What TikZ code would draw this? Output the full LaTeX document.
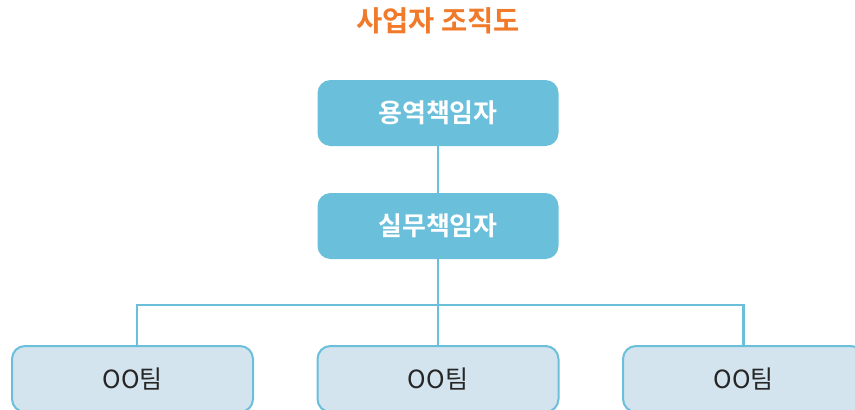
\documentclass[tikz,border=0pt]{standalone}
\usepackage{fontspec}
\setmainfont{Noto Sans CJK KR}[BoldFont={Noto Sans CJK KR Bold}]
\usepackage{xcolor}
\definecolor{headblue}{HTML}{6ABFDA}
\definecolor{teamfill}{HTML}{D4E4EE}
\definecolor{titleorange}{HTML}{F07A2A}
\tikzset{
  headbox/.style={draw=none,fill=headblue,rounded corners=13pt,minimum width=241pt,
    minimum height=66pt,text=white,font=\fontsize{26}{30}\selectfont\bfseries},
  teambox/.style={draw=headblue,line width=2pt,fill=teamfill,rounded corners=13pt,
    minimum width=241pt,minimum height=66pt,text=black!85,font=\fontsize{25}{30}\selectfont},
  link/.style={draw=headblue,line width=2.8pt}
}

\begin{document}
\begin{tikzpicture}[x=1pt,y=-1pt]
  \useasboundingbox (0,0) rectangle (855,410);
  \node[text=titleorange,font=\fontsize{28.5}{32}\selectfont\bfseries] (title) at (438,21) {사업자 조직도};
  \node[headbox] (p1) at (438,113) {용역책임자};
  \node[headbox] (p2) at (438,226) {실무책임자};
  \coordinate (hub) at (438,305);
  \begin{scope}
    \clip (0,0) rectangle (855,410);
    \node[teambox] (t1) at (132.5,379) {OO팀};
    \node[teambox] (t2) at (438,379) {OO팀};
    \node[teambox] (t3) at (743.5,379) {OO팀};
  \end{scope}
  \draw[link] (p1) -- (p2);
  \draw[link] (p2) -- (hub);
  \draw[link] ([xshift=4.5pt]t1.north) |- (hub) -| (t3.north);
  \draw[link] (hub) -- (t2.north);
\end{tikzpicture}
\end{document}
